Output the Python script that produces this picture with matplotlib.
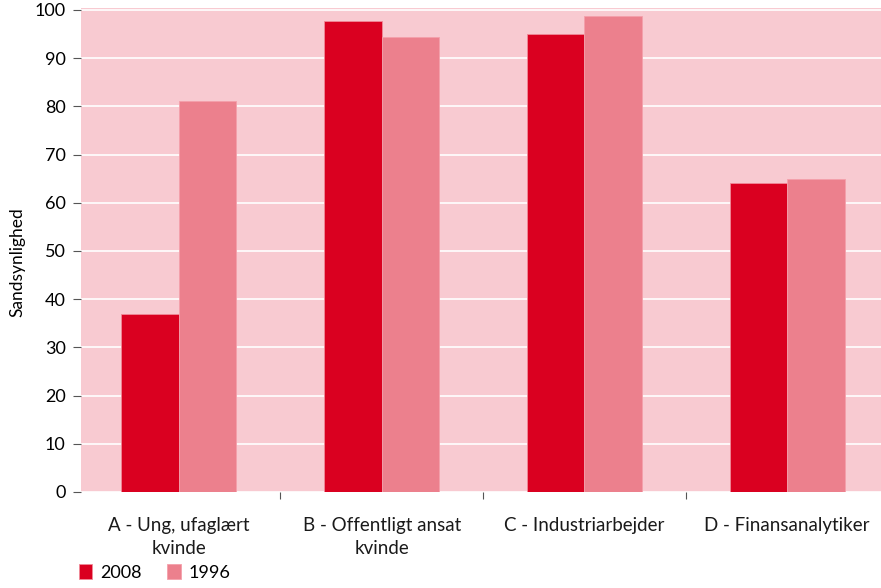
import numpy as np
import matplotlib.pyplot as plt
from matplotlib.ticker import FixedLocator

plt.rcParams["font.family"] = ["Lato", "DejaVu Sans"]

categories = ["A - Ung, ufaglært\nkvinde", "B - Offentligt ansat\nkvinde",
              "C - Industriarbejder", "D - Finansanalytiker"]
years = ["2008", "1996"]
values_2008 = [36.9, 97.6, 95.1, 64.2]
values_1996 = [81.1, 94.4, 98.8, 64.9]

colors = {
    "2008": "#da0020",
    "1996": "#ec808d",
}

fig = plt.figure(figsize=(8.81, 5.88), dpi=100)
ax = fig.add_axes([81/881, 1 - 492/588, 800/881, 484/588])
ax.set_facecolor("#f8cad1")

x = np.arange(len(categories))
width = 0.284
ax.bar(x - width/2, values_2008, width=width, color=colors["2008"],
       edgecolor="#f08a98", linewidth=0.6, label=years[0], zorder=3)
ax.bar(x + width/2, values_1996, width=width, color=colors["1996"],
       edgecolor="#f4a0ab", linewidth=0.6, label=years[1], zorder=3)

ax.set_xlim(-0.483, 3.463)
ax.set_ylim(0, 100.4)
ax.set_yticks(range(0, 101, 10))
ax.yaxis.grid(True, color="white", linewidth=1.2, zorder=1)
ax.set_axisbelow(True)

ax.set_xticks(x, categories)
for lbl in ax.get_xticklabels():
    lbl.set_multialignment("center")
    lbl.set_linespacing(1.45)
ax.xaxis.set_minor_locator(FixedLocator([0.5, 1.5, 2.5]))
ax.tick_params(axis="x", which="major", length=0, pad=18, labelsize=13.5, colors="#1a1a1a")
ax.tick_params(axis="x", which="minor", length=5, width=0.8, color="#555555")
ax.tick_params(axis="y", length=6, width=0.8, color="#555555", labelsize=13, pad=5)
for s in ax.spines.values():
    s.set_visible(False)

ax.set_ylabel("Sandsynlighed", fontsize=12.5)
ax.yaxis.set_label_coords(-0.07, 0.475)

fig.legend(loc="lower left", bbox_to_anchor=(0.081, 0.0), ncol=2, frameon=False,
           fontsize=13, handlelength=0.75, handleheight=0.85, handletextpad=0.45,
           columnspacing=1.4, borderaxespad=0)

fig.savefig("out.png", dpi=100)
